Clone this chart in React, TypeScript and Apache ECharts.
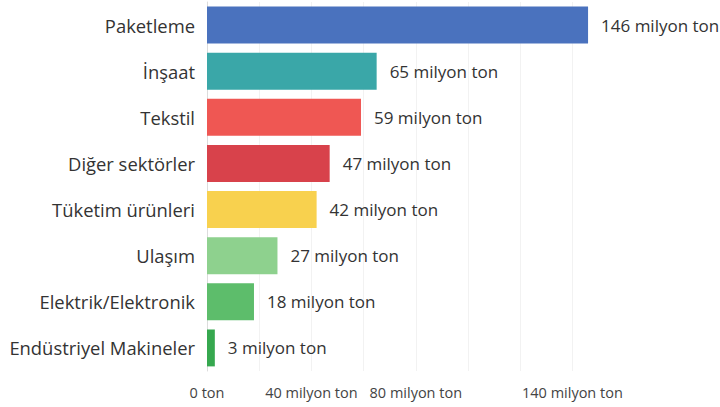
import React, { useEffect, useRef } from "react";
import * as echarts from "echarts";

const categories = [
  "Paketleme",
  "İnşaat",
  "Tekstil",
  "Diğer sektörler",
  "Tüketim ürünleri",
  "Ulaşım",
  "Elektrik/Elektronik",
  "Endüstriyel Makineler",
];
const values = [146, 65, 59, 47, 42, 27, 18, 3];
const barColors = ["#4a72be", "#3aa7a8", "#ef5753", "#d8424b", "#f8d14e", "#8ed18e", "#5dbd6b", "#36a84f"];
const tickLabels = [0, 40, 80, 140];

export default function App() {
  const ref = useRef<HTMLDivElement>(null);
  useEffect(() => {
    if (!ref.current) return;
    const chart = echarts.init(ref.current, null, { renderer: "svg" });
    const font = "'Open Sans', 'Noto Sans', sans-serif";
    chart.setOption({
      animation: false,
      grid: { left: 207, right: 121.5, top: 2, bottom: 36 },
      xAxis: {
        type: "value",
        min: 0,
        max: 150,
        interval: 20,
        axisLine: { show: false },
        axisTick: { show: false },
        splitLine: {
          show: true,
          showMinLine: false,
          showMaxLine: false,
          lineStyle: { color: "#f2f2f2", width: 1 },
        },
        axisLabel: {
          color: "#444",
          fontSize: 14.5,
          fontFamily: font,
          margin: 14,
          showMaxLabel: false,
          formatter: (v: number) =>
            tickLabels.includes(v) ? (v === 0 ? "0 ton" : `${v} milyon ton`) : "",
        },
      },
      yAxis: {
        type: "category",
        data: categories,
        inverse: true,
        axisLine: { show: true, lineStyle: { color: "#dcdcdc" } },
        axisTick: { show: false },
        axisLabel: { color: "#333", fontSize: 18.4, fontFamily: font, margin: 12 },
      },
      series: [
        {
          type: "bar",
          data: values.map((v, i) => ({ value: v, itemStyle: { color: barColors[i] } })),
          barCategoryGap: "20%",
          label: {
            show: true,
            position: "right",
            distance: 13,
            color: "#333",
            fontSize: 17,
            fontFamily: font,
            formatter: (p: any) => `${p.value} milyon ton`,
          },
        },
      ],
    });
    return () => chart.dispose();
  }, []);
  return <div ref={ref} style={{ width: 720, height: 407, position: "absolute", left: 0, top: 0 }} />;
}
